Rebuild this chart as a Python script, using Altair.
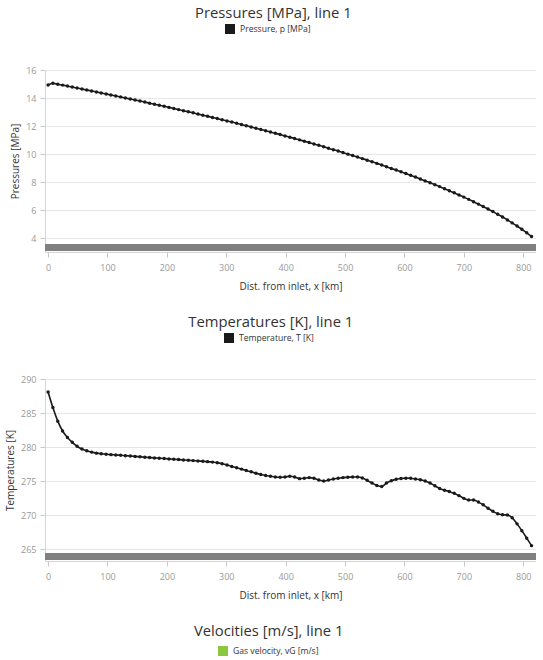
import altair as alt
import pandas as pd

# Distance along the pipeline [km]
dist_km = [
    0.0, 8.1, 16.3, 24.4, 32.6, 40.7, 48.8, 57.0, 65.1, 73.3,
    81.4, 89.5, 97.7, 105.8, 114.0, 122.1, 130.2, 138.4, 146.5, 154.7,
    162.8, 170.9, 179.1, 187.2, 195.4, 203.5, 211.6, 219.8, 227.9, 236.1,
    244.2, 252.3, 260.5, 268.6, 276.8, 284.9, 293.0, 301.2, 309.3, 317.5,
    325.6, 333.7, 341.9, 350.0, 358.2, 366.3, 374.4, 382.6, 390.7, 398.9,
    407.0, 415.1, 423.3, 431.4, 439.6, 447.7, 455.8, 464.0, 472.1, 480.3,
    488.4, 496.5, 504.7, 512.8, 521.0, 529.1, 537.2, 545.4, 553.5, 561.7,
    569.8, 577.9, 586.1, 594.2, 602.4, 610.5, 618.6, 626.8, 634.9, 643.1,
    651.2, 659.3, 667.5, 675.6, 683.8, 691.9, 700.0, 708.2, 716.3, 724.5,
    732.6, 740.7, 748.9, 757.0, 765.2, 773.3, 781.4, 789.6, 797.7, 805.9,
    814.0,
]

# Pressure p [MPa]
pressure_mpa = [
    14.93, 15.05, 14.98, 14.92, 14.85, 14.78, 14.71, 14.64, 14.57, 14.50,
    14.43, 14.36, 14.29, 14.22, 14.15, 14.08, 14.00, 13.93, 13.86, 13.78,
    13.71, 13.63, 13.56, 13.48, 13.41, 13.33, 13.25, 13.17, 13.09, 13.02,
    12.94, 12.85, 12.77, 12.69, 12.61, 12.53, 12.44, 12.36, 12.28, 12.19,
    12.10, 12.02, 11.93, 11.84, 11.75, 11.66, 11.57, 11.48, 11.39, 11.29,
    11.20, 11.11, 11.01, 10.91, 10.82, 10.72, 10.62, 10.52, 10.41, 10.31,
    10.21, 10.10, 9.99, 9.89, 9.78, 9.67, 9.56, 9.44, 9.33, 9.21,
    9.09, 8.97, 8.85, 8.73, 8.60, 8.48, 8.35, 8.22, 8.08, 7.95,
    7.81, 7.67, 7.52, 7.38, 7.23, 7.07, 6.92, 6.76, 6.59, 6.42,
    6.25, 6.07, 5.89, 5.69, 5.50, 5.29, 5.08, 4.85, 4.62, 4.37,
    4.11,
]

# Temperature T [K]
temperature_k = [
    288.1, 285.8, 283.8, 282.35, 281.4, 280.7, 280.1, 279.7, 279.45, 279.25,
    279.1, 279.0, 278.93, 278.88, 278.83, 278.78, 278.73, 278.68, 278.62, 278.56,
    278.5, 278.45, 278.4, 278.35, 278.3, 278.25, 278.2, 278.15, 278.1, 278.05,
    278.0, 277.95, 277.9, 277.85, 277.78, 277.7, 277.55, 277.35, 277.15, 276.95,
    276.75, 276.55, 276.35, 276.15, 275.95, 275.8, 275.7, 275.6, 275.55, 275.6,
    275.7, 275.6, 275.35, 275.4, 275.5, 275.4, 275.15, 275.0, 275.15, 275.3,
    275.4, 275.5, 275.55, 275.6, 275.58, 275.45, 275.1, 274.7, 274.35, 274.2,
    274.7, 275.05, 275.25, 275.38, 275.42, 275.4, 275.3, 275.2, 275.0, 274.7,
    274.3, 273.9, 273.65, 273.45, 273.2, 272.85, 272.45, 272.2, 272.2, 271.9,
    271.5, 271.0, 270.55, 270.2, 270.05, 270.0, 269.6, 268.7, 267.7, 266.6,
    265.5,
]

x_ticks = [0, 100, 200, 300, 400, 500, 600, 700, 800]
p_ticks = [4, 6, 8, 10, 12, 14, 16]
t_ticks = [265, 270, 275, 280, 285, 290]

X_DOMAIN = [-5.2, 821.5]
FONT = "Open Sans"
INK = "#1a1a1a"
BAR_GREY = "#808080"
GAS_GREEN = "#8dc63f"
PLOT_W = 491
PLOT_H = 182

profiles = pd.DataFrame({"x": dist_km, "p": pressure_mpa, "T": temperature_k})


def legend_at(lx, ly):
    return alt.Legend(
        orient="none", legendX=lx, legendY=ly, title=None,
        direction="horizontal", symbolType="square", symbolSize=100,
        symbolOpacity=1, symbolStrokeWidth=0, labelFont=FONT,
        labelFontSize=8.6, labelColor="#333333", labelOffset=5,
    )


def heading(text, offset):
    return alt.TitleParams(text, offset=offset, frame="bounds", anchor="middle")


def profile_panel(field, title, y_title, series, y_domain, y_ticks, lx):
    x_enc = alt.X(
        "x:Q",
        scale=alt.Scale(domain=X_DOMAIN, nice=False, zero=False),
        axis=alt.Axis(
            values=x_ticks, title="Dist. from inlet, x [km]", grid=False,
            labelPadding=6, titlePadding=9,
        ),
    )
    y_enc = alt.Y(
        f"{field}:Q",
        scale=alt.Scale(domain=y_domain, nice=False, zero=False),
        axis=alt.Axis(
            values=y_ticks, title=y_title, grid=True,
            labelPadding=4, titlePadding=5,
        ),
    )
    # navigator strip along the bottom of the plot
    strip = alt.Chart(pd.DataFrame({"k": [0]})).mark_rect(color=BAR_GREY).encode(
        x=alt.value(0), x2=alt.value(PLOT_W),
        y=alt.value(PLOT_H - 8), y2=alt.value(PLOT_H - 1),
    )
    base = alt.Chart(profiles)
    line = base.mark_line(color=INK, strokeWidth=1.6, interpolate="monotone").encode(
        x=x_enc, y=y_enc
    )
    dots = base.mark_circle(size=12, opacity=1).encode(
        x=x_enc, y=y_enc,
        color=alt.Color(
            "series:N",
            scale=alt.Scale(domain=[series], range=[INK]),
            legend=legend_at(lx, -46),
        ),
    ).transform_calculate(series=f"'{series}'")
    return alt.layer(strip, line, dots).properties(
        width=PLOT_W, height=PLOT_H, title=heading(title, 3),
    )


pressure = profile_panel(
    "p", "Pressures [MPa], line 1", "Pressures [MPa]", "Pressure, p [MPa]",
    [3, 16], p_ticks, 180,
)
temperature = profile_panel(
    "T", "Temperatures [K], line 1", "Temperatures [K]", "Temperature, T [K]",
    [263.24, 290], t_ticks, 179,
)

# Velocity panel: heading and legend only (its plot starts below the fold)
velocity_series = "Gas velocity, vG [m/s]"
velocity = alt.Chart(pd.DataFrame({"series": [velocity_series]})).mark_square(
    opacity=0
).encode(
    x=alt.value(0), y=alt.value(0),
    color=alt.Color(
        "series:N",
        scale=alt.Scale(domain=[velocity_series], range=[GAS_GREEN]),
        legend=legend_at(173, -10),
    ),
).properties(
    width=450, height=1, title=heading("Velocities [m/s], line 1", 7),
)

chart = alt.vconcat(pressure, temperature, velocity, spacing=24).resolve_scale(
    x="independent", y="independent", color="independent"
).properties(
    padding={"left": 5, "top": 6, "right": 0, "bottom": 0}
).configure_view(
    stroke=None
).configure_title(
    font=FONT, fontSize=14.8, fontWeight="normal", color="#333333"
).configure_axis(
    labelFont=FONT, labelFontSize=9, labelColor="#999999",
    titleFont=FONT, titleFontSize=10, titleFontWeight="normal", titleColor="#333333",
    domainColor="#d4d4d4", tickColor="#c8c8c8", tickSize=5,
    gridColor="#e6e6e6",
)

chart.save("out.html", embed_options={"renderer": "svg", "actions": False})
